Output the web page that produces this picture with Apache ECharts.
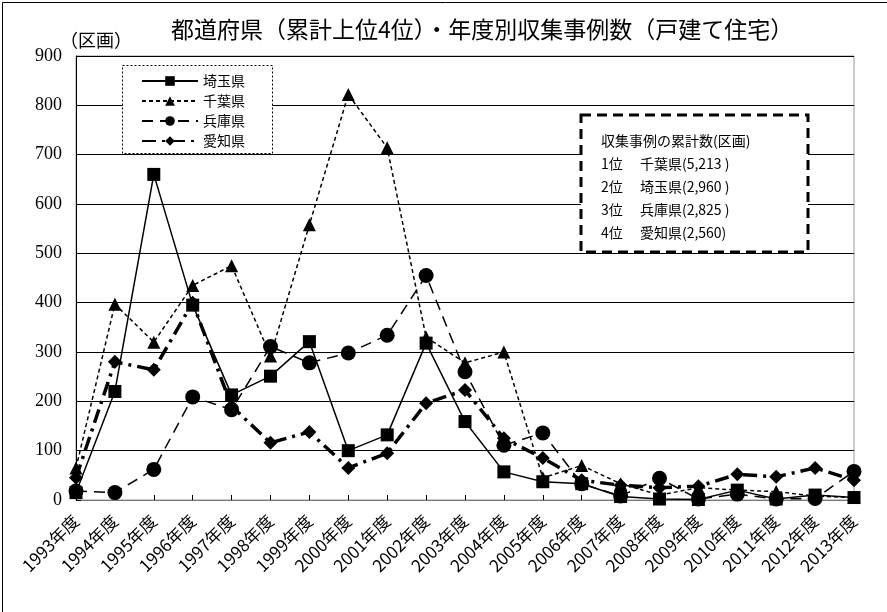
<!DOCTYPE html>
<html><head><meta charset="utf-8">
<script src="https://cdn.jsdelivr.net/npm/echarts@6/dist/echarts.min.js"></script>
<style>html,body{margin:0;padding:0;background:#fff}#c{width:887px;height:612px}</style>
</head><body><div id="c"></div>
<script>
const categories = ['1993年度','1994年度','1995年度','1996年度','1997年度','1998年度','1999年度','2000年度','2001年度','2002年度','2003年度','2004年度','2005年度','2006年度','2007年度','2008年度','2009年度','2010年度','2011年度','2012年度','2013年度'];
const saitama = [15,220,660,395,213,251,321,100,132,318,159,57,37,33,7,2,1,20,2,10,5];
const chiba   = [65,397,320,435,475,292,558,822,714,330,278,300,45,70,33,10,25,20,17,8,5];
const hyogo   = [18,15,62,209,183,311,278,298,334,455,260,111,136,33,8,44,2,12,2,3,58];
const aichi   = [45,280,264,400,190,116,138,65,95,196,223,125,85,40,30,25,28,52,47,65,40];
const seriesNames = ['埼玉県','千葉県','兵庫県','愛知県'];
const yTicks = [0,100,200,300,400,500,600,700,800,900];
const boxLines = ['収集事例の累計数(区画)','1位　 千葉県(5,213 )','2位　 埼玉県(2,960 )','3位　 兵庫県(2,825 )','4位　 愛知県(2,560)'];

const FONT = '"Noto Sans CJK JP", sans-serif';
const chart = echarts.init(document.getElementById('c'));
const mk = (name, data, symbol, size, lineStyle) => ({
  name, type: 'line', data, symbol, symbolSize: size, z: 3,
  itemStyle: {color: '#000'}, lineStyle: Object.assign({color: '#000'}, lineStyle)
});
chart.setOption({
  animation: false,
  backgroundColor: '#fff',
  title: {text: '都道府県（累計上位4位）・年度別収集事例数（戸建て住宅）', left: 166, top: 13,
    textStyle: {fontFamily: FONT, fontSize: 23, fontWeight: 'normal', color: '#000'}},
  grid: {left: 76, right: 33, top: 56, bottom: 112, show: true, borderColor: '#999', borderWidth: 1},
  legend: {
    orient: 'vertical', left: 136, top: 69, itemWidth: 56, itemHeight: 12, itemGap: 6, z: 6,
    data: seriesNames,
    textStyle: {fontFamily: FONT, fontSize: 14, color: '#000'}
  },
  xAxis: {
    type: 'category', data: categories, boundaryGap: false,
    axisLine: {lineStyle: {color: '#777', width: 1}},
    axisTick: {inside: true, length: 5, lineStyle: {color: '#000'}, alignWithLabel: true},
    axisLabel: {rotate: 45, interval: 0, fontFamily: FONT, fontSize: 17, color: '#000', margin: 18}
  },
  yAxis: {
    type: 'value', min: yTicks[0], max: yTicks[yTicks.length-1], interval: 100,
    axisLine: {show: true, lineStyle: {color: '#000'}},
    axisTick: {show: true, inside: true, length: 5, lineStyle: {color: '#000'}},
    axisLabel: {fontFamily: '"Liberation Serif", serif', fontSize: 18, color: '#000', margin: 14},
    splitLine: {lineStyle: {color: '#000', width: 1}}
  },
  graphic: [
    {type: 'rect', left: 0, top: 0, shape: {x: 0.5, y: 0.5, width: 886, height: 611}, style: {fill: 'none', stroke: '#000', lineWidth: 1}, z: 10},
    {type: 'text', left: 60, top: 31, style: {text: '（区画）', font: '18px ' + FONT, fill: '#000'}, z: 10},
    {type: 'rect', shape: {x: 122.5, y: 65.5, width: 150, height: 88}, style: {fill: '#fff', stroke: '#000', lineWidth: 1, lineDash: [2, 2]}, z: 4},
    {type: 'rect', shape: {x: 581, y: 115, width: 227, height: 137}, style: {fill: '#fff', stroke: '#000', lineWidth: 3, lineDash: [10, 6]}, z: 4},
    {type: 'text', x: 601, y: 129, style: {text: boxLines.join('\n'), font: '14px ' + FONT, lineHeight: 23, fill: '#000'}, z: 5}
  ],
  series: [
    mk(seriesNames[0], saitama, 'rect', 13, {width: 1.5, type: 'solid'}),
    mk(seriesNames[1], chiba, 'triangle', 13, {width: 1.5, type: [4, 3]}),
    mk(seriesNames[2], hyogo, 'circle', 15, {width: 1.5, type: [11, 7]}),
    mk(seriesNames[3], aichi, 'diamond', 14, {width: 3.5, type: [14, 6, 3, 6]})
  ]
});
</script></body></html>
